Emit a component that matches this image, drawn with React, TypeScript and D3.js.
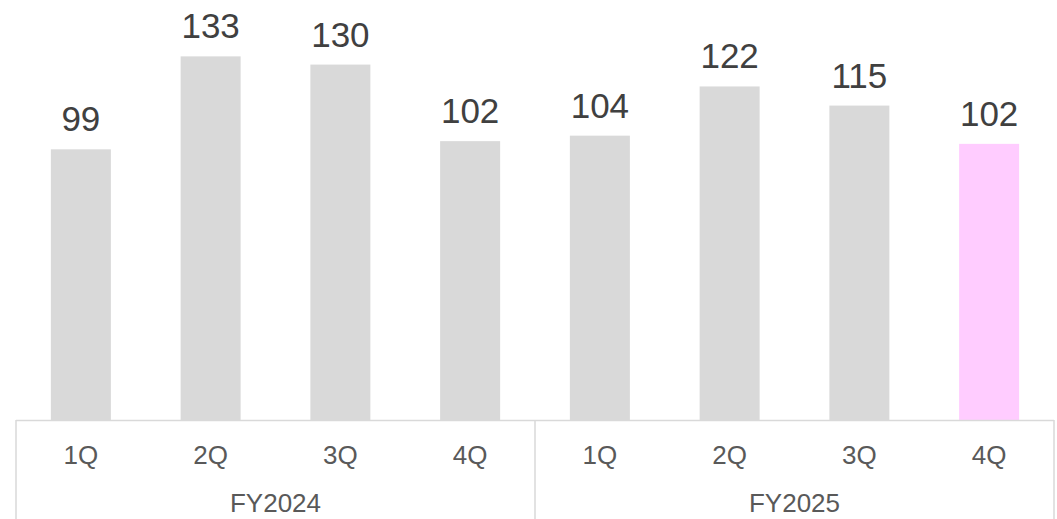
import React from "react";
import * as d3 from "d3";

const quarters = ["1Q", "2Q", "3Q", "4Q", "1Q", "2Q", "3Q", "4Q"];
const years = ["FY2024", "FY2025"];
const values = [99, 133, 130, 102, 104, 122, 115, 101];
const valueLabels = ["99", "133", "130", "102", "104", "122", "115", "102"];
const highlight = [false, false, false, false, false, false, false, true];

const W = 1057;
const H = 519;

export default function App() {
  const ids = quarters.map((_, i) => String(i));
  const x = d3
    .scaleBand<string>()
    .domain(ids)
    .range([16, 1054])
    .paddingInner(0.5376)
    .paddingOuter(0.2688);
  const baseline = 420;
  const y = d3.scaleLinear().domain([0, 100]).range([baseline, baseline - 273.4]);
  const step = x.step();
  const font = "'Liberation Sans', Arial, sans-serif";
  const lineColor = "#d9d9d9";
  const groupEdges = [16, 16 + step * 4, 16 + step * 8];

  return (
    <svg
      width={W}
      height={H}
      style={{ position: "absolute", left: 0, top: 0, display: "block" }}
      fontFamily={font}
    >
      <rect width={W} height={H} fill="#ffffff" />
      {values.map((v, i) => (
        <rect
          key={"b" + i}
          x={x(ids[i])}
          y={y(v)}
          width={x.bandwidth()}
          height={baseline - y(v)}
          fill={highlight[i] ? "#ffccff" : "#d9d9d9"}
        />
      ))}
      {values.map((v, i) => (
        <text
          key={"l" + i}
          x={(x(ids[i]) as number) + x.bandwidth() / 2}
          y={y(v) - 18}
          textAnchor="middle"
          fontSize={35}
          fill="#404040"
        >
          {valueLabels[i]}
        </text>
      ))}
      <line x1={groupEdges[0]} x2={groupEdges[2]} y1={baseline + 0.5} y2={baseline + 0.5} stroke={lineColor} strokeWidth={1.5} />
      {groupEdges.map((gx, i) => (
        <line key={"v" + i} x1={gx} x2={gx} y1={baseline} y2={H} stroke={lineColor} strokeWidth={1.5} />
      ))}
      {quarters.map((q, i) => (
        <text
          key={"q" + i}
          x={(x(ids[i]) as number) + x.bandwidth() / 2}
          y={463.5}
          textAnchor="middle"
          fontSize={26}
          fill="#595959"
        >
          {q}
        </text>
      ))}
      {years.map((yr, i) => (
        <text
          key={"y" + i}
          x={(groupEdges[i] + groupEdges[i + 1]) / 2}
          y={512.3}
          textAnchor="middle"
          fontSize={26}
          fill="#595959"
        >
          {yr}
        </text>
      ))}
    </svg>
  );
}
